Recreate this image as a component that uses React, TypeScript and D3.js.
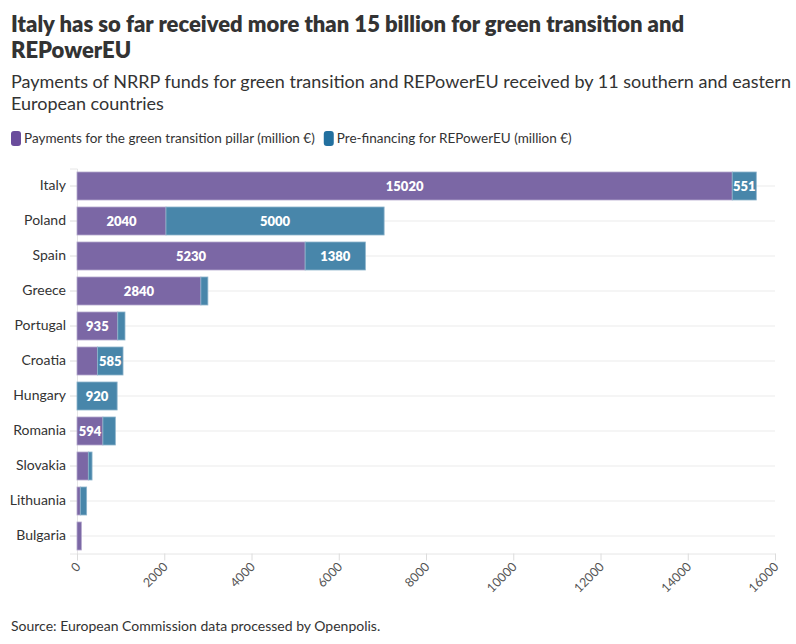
import { FC, useEffect, useRef } from 'react';
import * as d3 from 'd3';

const countries = ['Italy', 'Poland', 'Spain', 'Greece', 'Portugal', 'Croatia', 'Hungary', 'Romania', 'Slovakia', 'Lithuania', 'Bulgaria'];
const greenPillar = [15020, 2040, 5230, 2840, 935, 470, 0, 594, 260, 76, 100];
const repowerEU = [551, 5000, 1380, 160, 165, 585, 920, 285, 85, 145, 0];
const xTicks = [0, 2000, 4000, 6000, 8000, 10000, 12000, 14000, 16000];
const seriesNames = ['Payments for the green transition pillar (million €)', 'Pre-financing for REPowerEU (million €)'];

const barColors = ['#7b67a5', '#4886aa'];
const legendColors = ['#6a4c9c', '#22709f'];
const FONT = 'Lato, "Open Sans", sans-serif';

const App: FC = () => {
  const svgRef = useRef<SVGSVGElement>(null);

  useEffect(() => {
    document.body.style.margin = '0';
    if (!svgRef.current) return;
    const root = d3.select(svgRef.current);
    root.selectAll('*').remove();
    root.attr('font-family', FONT);

    // Titles
    const title = root.append('text').attr('fill', '#333').attr('font-size', 22).attr('font-weight', 800);
    title.append('tspan').attr('x', 11).attr('y', 32).text('Italy has so far received more than 15 billion for green transition and');
    title.append('tspan').attr('x', 11).attr('y', 58).text('REPowerEU');

    const sub = root.append('text').attr('fill', '#333').attr('font-size', 18);
    sub.append('tspan').attr('x', 11).attr('y', 88).text('Payments of NRRP funds for green transition and REPowerEU received by 11 southern and eastern');
    sub.append('tspan').attr('x', 11).attr('y', 110).text('European countries');

    // Legend, each item placed after the previous one's text
    let legendX = 11;
    seriesNames.forEach((name, i) => {
      const g = root.append('g').attr('transform', `translate(${legendX},131)`);
      g.append('rect').attr('width', 10).attr('height', 15).attr('rx', 3).attr('fill', legendColors[i]);
      const t = g.append('text').attr('x', 13).attr('y', 12).attr('font-size', 13.5).attr('fill', '#333').text(name);
      const w = (t.node() as SVGTextElement).getComputedTextLength();
      legendX += 13 + w + 9;
    });

    // Scales
    const x = d3.scaleLinear().domain([0, 16000]).range([77, 775]);
    const y = d3.scaleBand<string>().domain(countries).range([168.5, 553.5]).paddingInner(0.2).paddingOuter(0.1);
    const step = y.step();

    // Gridlines
    root.append('g')
      .selectAll('line')
      .data(countries)
      .join('line')
      .attr('x1', x(0))
      .attr('x2', x(16000))
      .attr('y1', d => (y(d) as number) + y.bandwidth() / 2)
      .attr('y2', d => (y(d) as number) + y.bandwidth() / 2)
      .attr('stroke', '#ebebeb');

    // Y axis
    const yAxis = root.append('g').attr('transform', `translate(${x(0)},0)`)
      .call(d3.axisLeft(y).tickSize(7).tickPadding(4));
    yAxis.select('.domain').attr('stroke', '#e6e6e6');
    yAxis.selectAll('.tick line').attr('stroke', '#dcdcdc');
    yAxis.selectAll('.tick text').attr('font-size', 14).attr('fill', '#333').attr('font-family', FONT);

    // X axis
    const xAxis = root.append('g').attr('transform', `translate(0,${168.5 + step * countries.length})`)
      .call(d3.axisBottom(x).tickValues(xTicks).tickFormat(d3.format('d')).tickSize(7).tickSizeOuter(0));
    xAxis.select('.domain').attr('stroke', '#e6e6e6');
    xAxis.selectAll('.tick line').attr('stroke', '#dcdcdc');
    xAxis.selectAll('.tick text')
      .attr('font-size', 12.5)
      .attr('fill', '#555')
      .attr('font-family', FONT)
      .attr('text-anchor', 'end')
      .attr('dy', null)
      .attr('y', null)
      .attr('transform', 'translate(4,14) rotate(-45)');

    // Stacked bars
    const rows = countries.map((c, i) => ({ country: c, values: [greenPillar[i], repowerEU[i]] }));
    rows.forEach(r => {
      let start = 0;
      r.values.forEach((v, s) => {
        if (v <= 0) return;
        const x0 = x(start);
        const x1 = x(start + v);
        const yy = y(r.country) as number;
        root.append('rect')
          .attr('x', x0)
          .attr('y', yy)
          .attr('width', x1 - x0)
          .attr('height', y.bandwidth())
          .attr('fill', barColors[s])
          .attr('stroke', s === 0 ? '#b3a8cc' : '#8cb3cb')
          .attr('stroke-width', 0.8);
        if (x1 - x0 >= 22) {
          root.append('text')
            .attr('x', (x0 + x1) / 2)
            .attr('y', yy + y.bandwidth() / 2)
            .attr('dy', '0.35em')
            .attr('text-anchor', 'middle')
            .attr('font-size', 13)
            .attr('font-weight', 800)
            .attr('fill', '#fff')
            .text(v.toString());
        }
        start += v;
      });
    });

    // Source
    root.append('text')
      .attr('x', 11)
      .attr('y', 631)
      .attr('font-size', 14)
      .attr('fill', '#333')
      .text('Source: European Commission data processed by Openpolis.');
  }, []);

  return <svg ref={svgRef} width={796} height={644} style={{ display: 'block', background: '#fff' }} />;
};

export default App;
